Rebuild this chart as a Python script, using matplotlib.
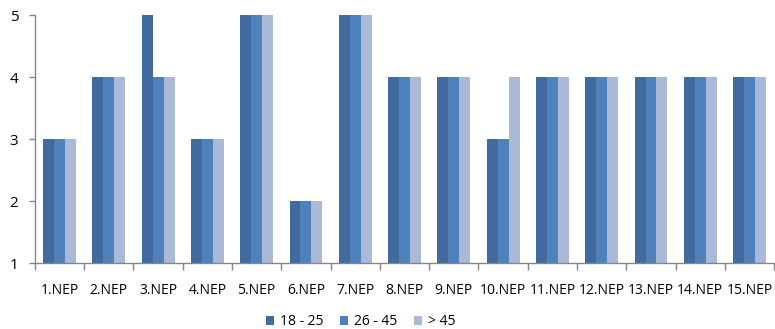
import matplotlib
matplotlib.use("Agg")
import matplotlib.pyplot as plt
import numpy as np

categories = ["1.NEP", "2.NEP", "3.NEP", "4.NEP", "5.NEP", "6.NEP", "7.NEP", "8.NEP",
              "9.NEP", "10.NEP", "11.NEP", "12.NEP", "13.NEP", "14.NEP", "15.NEP"]
series_names = ["18 - 25", "26 - 45", "> 45"]
age_18_25 = [3, 4, 5, 3, 5, 2, 5, 4, 4, 3, 4, 4, 4, 4, 4]
age_26_45 = [3, 4, 4, 3, 5, 2, 5, 4, 4, 3, 4, 4, 4, 4, 4]
age_over_45 = [3, 4, 4, 3, 5, 2, 5, 4, 4, 4, 4, 4, 4, 4, 4]
colors = ["#416B9E", "#4F81BD", "#AAB9D8"]

plt.rcParams["font.family"] = ["Open Sans", "DejaVu Sans"]

fig = plt.figure(figsize=(7.75, 3.29), dpi=100)
ax = fig.add_axes([0.045, 0.2, 0.954, 0.754])

x = np.arange(len(categories))
w = 0.222
for i, (vals, name) in enumerate(zip([age_18_25, age_26_45, age_over_45], series_names)):
    ax.bar(x + (i - 1) * w, vals, width=w, color=colors[i], label=name, zorder=2)

ax.set_xlim(-0.5, len(categories) - 0.5)
ax.set_ylim(1, 5)
ax.set_yticks([1, 2, 3, 4, 5])
ax.set_xticks(x)
ax.set_xticklabels(categories)
ax.set_xticks(np.arange(-0.5, len(categories), 1.0), minor=True)
ax.tick_params(axis="x", which="major", length=0, pad=14, labelsize=10, colors="#000000")
ax.tick_params(axis="x", which="minor", length=5, color="#868686", width=1)
ax.tick_params(axis="y", length=4, color="#868686", width=1, labelsize=11, pad=8)

for side in ["top", "right"]:
    ax.spines[side].set_visible(False)
for side in ["left", "bottom"]:
    ax.spines[side].set_color("#868686")
    ax.spines[side].set_linewidth(1)

fig.legend(loc="center", bbox_to_anchor=(0.465, 0.022), ncol=3, frameon=False,
           fontsize=10, handlelength=0.6, handleheight=0.6, handletextpad=0.4,
           columnspacing=1.2)

fig.savefig("out.png", dpi=100)
